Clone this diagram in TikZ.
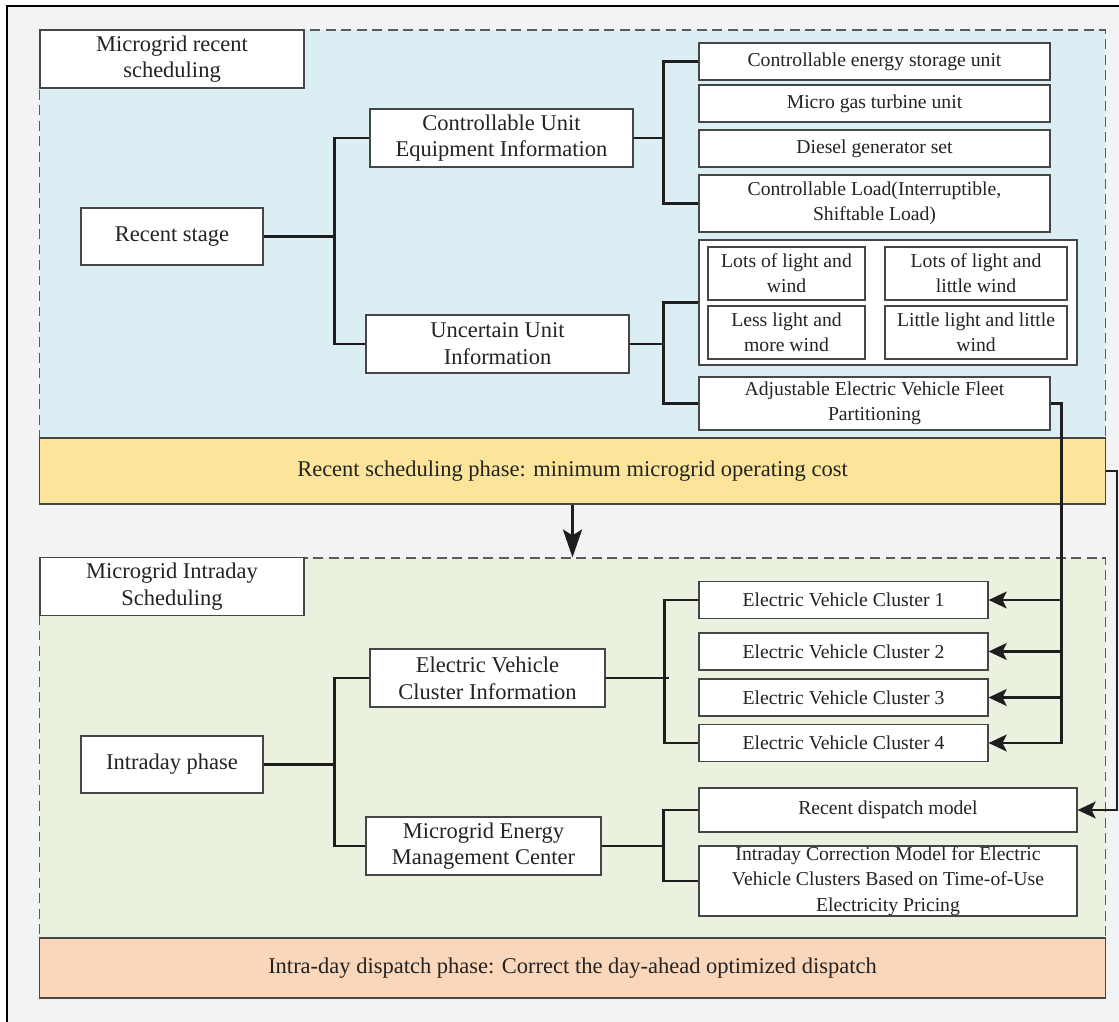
\documentclass[tikz,border=0pt]{standalone}
\usepackage{fontspec}
\setmainfont{Liberation Serif}
\usepackage{xcolor}
\usepackage{tikz}
\usetikzlibrary{arrows.meta, positioning, calc}
\definecolor{outergray}{RGB}{241,243,245}
\definecolor{bluefill}{RGB}{218,238,243}
\definecolor{yellowfill}{RGB}{252,229,155}
\definecolor{greenfill}{RGB}{235,241,223}
\definecolor{orangefill}{RGB}{250,214,186}
\definecolor{boxgray}{RGB}{70,70,70}
\definecolor{dashgray}{RGB}{90,90,90}
\definecolor{linedark}{RGB}{30,30,30}
\definecolor{txtdark}{RGB}{35,35,35}
\tikzset{
  region/.style={rectangle, draw=dashgray, dash pattern=on 7pt off 4pt,
    line width=0.8pt, minimum width=26.625cm, inner sep=0pt},
  band/.style={rectangle, draw=boxgray, line width=0.8pt, minimum width=26.625cm,
    inner sep=0pt, text=txtdark, font=\fontsize{16}{19}\selectfont},
  bigbox/.style={rectangle, draw=boxgray, fill=white, line width=0.8pt,
    inner sep=0pt, align=center, text=txtdark, font=\fontsize{16}{19}\selectfont},
  smallbox/.style={bigbox, font=\fontsize{14}{18}\selectfont},
  titlebox/.style={bigbox, minimum width=6.6cm, minimum height=1.45cm},
  stagebox/.style={bigbox, minimum width=4.55cm, minimum height=1.425cm},
  infobox/.style={bigbox, minimum width=6.575cm, minimum height=1.45cm},
  evinfobox/.style={bigbox, minimum width=5.875cm, minimum height=1.45cm},
  unitbox/.style={smallbox, minimum width=8.775cm, minimum height=0.925cm},
  casebox/.style={smallbox, minimum height=1.325cm},
  evbox/.style={smallbox, minimum width=7.225cm, minimum height=0.925cm},
  modelbox/.style={smallbox, minimum width=9.45cm},
  line/.style={line width=1.6pt, color=linedark},
  arrow/.style={line, -{Stealth[length=4.5mm, width=4.2mm, inset=1mm]}},
  downarrow/.style={line, -{Stealth[length=7mm, width=4.8mm, inset=1.5mm]}}
}

\begin{document}
\begin{tikzpicture}[x=0.025cm, y=-0.025cm]
  \clip (0,0) rectangle (1119,1021);

  % Outer frame
  \draw[draw=black, fill=outergray, line width=0.8pt] (7,6) rectangle (1130,1030);

  % Recent scheduling region and its phase band
  \node[region, fill=bluefill, minimum height=10.2cm] (recreg) at (572.5,234) {};
  \node[band, fill=yellowfill, minimum height=1.65cm] (yband) at (572.5,471)
    {Recent scheduling phase: minimum microgrid operating cost};
  \node[titlebox] (title1) at (172,59) {Microgrid recent\\scheduling};

  % Intraday region and its phase band
  \node[region, fill=greenfill, minimum height=9.5cm] (intreg) at (572.5,748) {};
  \node[band, fill=orangefill, minimum height=1.5cm] (oband) at (572.5,968)
    {Intra-day dispatch phase: Correct the day-ahead optimized dispatch};
  \node[titlebox] (title2) at (172,586.5) {Microgrid Intraday\\Scheduling};

  % Phase transition
  \draw[downarrow] (yband.south) -- (intreg.north);

  % Recent stage tree
  \node[stagebox] (rstage) at (172,236.5) {Recent stage};
  \node[infobox] (cue) at (501.5,138) {Controllable Unit\\Equipment Information};
  \node[infobox] (uui) at (497.5,344) {Uncertain Unit\\Information};
  \draw[line] (rstage.east) -- ++(72,0);
  \draw[line] (cue.west) -- ++(-35,0) |- (uui.west);

  % Controllable units
  \node[unitbox] (ces) at (874.5,61.5) {Controllable energy storage unit};
  \node[unitbox] (mgt) at (874.5,103.5) {Micro gas turbine unit};
  \node[unitbox] (dgs) at (874.5,148.5) {Diesel generator set};
  \node[unitbox, minimum height=1.425cm] (cload) at (874.5,203.5)
    {Controllable Load(Interruptible,\\Shiftable Load)};
  \draw[line] (cue.east) -- ++(31,0);
  \draw[line] (ces.west) -- ++(-35,0) |- (cload.west);

  % Uncertain units
  \node[rectangle, draw=boxgray, fill=white, line width=0.8pt,
    minimum width=9.45cm, minimum height=3.125cm] (cases) at (888,302.5) {};
  \node[casebox, minimum width=3.925cm] (case1) at (786.5,273.5) {Lots of light and\\wind};
  \node[casebox, minimum width=4.55cm] (case2) at (976,273.5) {Lots of light and\\little wind};
  \node[casebox, minimum width=3.925cm] (case3) at (786.5,332.5) {Less light and\\more wind};
  \node[casebox, minimum width=4.55cm] (case4) at (976,332.5) {Little light and little\\wind};
  \node[unitbox, minimum height=1.325cm] (aev) at (874.5,403.5)
    {Adjustable Electric Vehicle Fleet\\Partitioning};
  \draw[line] (uui.east) -- ++(35,0);
  \draw[line] (cases.west) -- ++(-35,0) |- (aev.west);

  % Intraday phase tree
  \node[stagebox] (iphase) at (172,764.5) {Intraday phase};
  \node[evinfobox] (evci) at (487.5,678) {Electric Vehicle\\Cluster Information};
  \node[evinfobox] (memc) at (483.5,846) {Microgrid Energy\\Management Center};
  \draw[line] (iphase.east) -- ++(72,0);
  \draw[line] (evci.west) -- ++(-35,0) |- (memc.west);

  % Electric vehicle clusters
  \node[evbox] (ev1) at (843.5,600) {Electric Vehicle Cluster 1};
  \node[evbox] (ev2) at (843.5,651.5) {Electric Vehicle Cluster 2};
  \node[evbox] (ev3) at (843.5,697.5) {Electric Vehicle Cluster 3};
  \node[evbox] (ev4) at (843.5,743) {Electric Vehicle Cluster 4};
  \draw[line] (evci.east) -- ++(63,0);
  \draw[line] (ev1.west) -- ++(-34,0) |- (ev4.west);

  % Dispatch models
  \node[modelbox, minimum height=1.1cm] (rdm) at (888,810) {Recent dispatch model};
  \node[modelbox, minimum height=1.75cm] (icm) at (888,881)
    {Intraday Correction Model for Electric\\Vehicle Clusters Based on Time-of-Use\\Electricity Pricing};
  \draw[line] (memc.east) -- ++(63,0);
  \draw[line] (rdm.west) -- ++(-35,0) |- (icm.west);

  % Fleet partitioning feeds the clusters
  \draw[arrow] (aev.east) -- ++(11,0) coordinate (feed) |- (ev4.east);
  \foreach \ev in {ev1, ev2, ev3}
    \draw[arrow] (feed |- \ev.east) -- (\ev.east);

  % Recent result feeds the recent dispatch model
  \draw[arrow] (yband.east) -- ++(11,0) |- (rdm.east);
\end{tikzpicture}
\end{document}
